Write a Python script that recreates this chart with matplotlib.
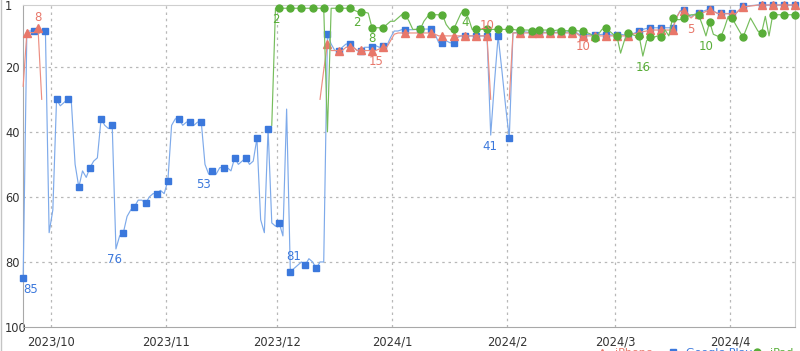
import numpy as np
import pandas as pd
import matplotlib
matplotlib.use("Agg")
import matplotlib.pyplot as plt
import matplotlib.dates as mdates
from matplotlib.lines import Line2D
from matplotlib.ticker import FuncFormatter

nan = np.nan

# daily ranks, starting 2023-09-23
dates = pd.date_range("2023-09-23 12:00", periods=209, freq="D")

blue_rank = [
    85, 9, 9, 9, 10, 9, 9, 71, 64, 30,
    32, 31, 30, 31, 50, 57, 52, 54, 51, 49,
    48, 36, 38, 39, 38, 76, 72, 71, 66, 64,
    63, 61, 61, 62, 60, 59, 59, 58, 59, 55,
    38, 36, 36, 38, 37, 37, 38, 37, 37, 50,
    53, 52, 53, 51, 51, 51, 52, 48, 50, 49,
    48, 50, 49, 42, 67, 71, 39, 68, 69, 68,
    72, 33, 83, 82, 81, 80, 81, 79, 80, 82,
    80, 80, 10, 13, 15, 15, 14, 13, 13, 14,
    15, 15, 14, 14, 14, 13.5, 14, 13.5, 13.5, 11,
    9, 9, 8.6, 8.6, 8.6, 8.6, 8.5, 8.4, 8.4, 8.4,
    8.4, 10, 12.6, 12.6, 12, 12.6, 12.6, 11, 10.5, 10.5,
    10.5, 10.5, 10.5, 10.5, 10.5, 10.5, 41, 25, 10.5, 21,
    32, 42, 9.6, 9.4, 9.4, 9.2, 9.4, 9.4, 9.4, 9.2,
    9.4, 9.4, 9.2, 9.4, 9.4, 9.4, 9.4, 9.2, 9.4, 9.4,
    10.2, 10.2, 10, 10.2, 10.2, 10.2, 10, 10.2, 10.2, 10.2,
    10.2, 10, 10.2, 10.2, 10, 9.5, 9, 8.5, 8.2, 8,
    8, 8, 8, 8, 8, 8, 5, 2.8, 2.5, 3.5,
    4.5, 3.8, 3.6, 3, 2.6, 2.3, 2.8, 3.5, 3.6, 3.6,
    3.6, 3.6, 3.6, 2.5, 1.3, 1.5, 1.2, 1.1, 1, 1,
    1, 1, 1, 1, 1, 1, 1, 1, 1,
]

red_rank = (
    [26, 9.5, 9.5, 9.5, 8, 30] + [nan] * 74 +
    [30, 21, 13, 15, 15, 15, 15, 14, 14, 14,
     15, 14.7, 15, 15, 15, 15, 14.5, 14, 14, 12,
     10, 9.6, 9.6, 9.6, 9.6, 9.6, 9.6, 9.6, 9.6, 9.6,
     9.6, 10, 10.5, 10.5, 10.5, 10.5, 10.5, 10.5, 10.5, 10.5,
     10.5, 10.5, 10.5, 10.5, 10.5, 10.5, 30, nan, nan, nan,
     nan, 30, 9.6, 9.6, 9.6, 9.6, 9.6, 9.6, 9.6, 9.6,
     9.6, 9.6, 9.6, 9.6, 9.6, 9.6, 9.6, 9.6, 9.6, 9.6,
     10.5, 10.5, 10.5, 10.5, 10.5, 10.5, 10.5, 10.5, 10.5, 10.5,
     10.5, 10.5, 10.5, 10.5, 10, 9.8, 9.6, 9.2, 9, 8.7,
     8.7, 8.7, 8.7, 8.7, 8.7, 8.7, 5, 3, 2.8, 4,
     5, 4, 3.7, 3.5, 3, 2.5, 3, 3.5, 3.7, 3.7,
     3.7, 3.7, 3.7, 2.5, 1.5, 1.5, 1.3, 1.2, 1, 1,
     1, 1, 1, 1, 1, 1, 1, 1, 1]
)

green_rank = (
    [nan] * 67 +
    [38, 2, 2, 2, 2, 2, 2, 2, 2, 2, 2, 2, 2, 2, 2,
     40, 2, 2, 2, 2, 2, 2,
     2.5, 3, 3, 3.2, 3.5, 8, 8, 8, 8, 7, 6,
     6, 5, 4, 4, 6, 8.5, 8.5, 8.5, 6, 4.5,
     4, 4, 4, 4, 7, 8.5, 8.5, 6, 3.5, 3,
     5, 8.5, 8.5, 8.5, 8.5, 8.5, 8.5, 8.5, 8.5, 8.5,
     8.5, 8.5, 8.5, 8.7, 8.7, 8.7, 8.7, 8.9, 8.7, 8.7,
     8.7, 8.7, 8.9, 8.9, 8.7, 8.9, 8.9, 8.9, 8.7, 8.9,
     9, 9, 9.5, 10, 11, 10, 8.5, 8.1, 9, 10,
     10.5, 15.8, 12, 9.6, 10, 10.5, 10.5, 16.7, 12, 10.9,
     10.9, 10.5, 10.9, 8.7, 10.5, 5, 5.5, 5.5, 5, 4.5,
     4, 4, 4, 7, 10.5, 6.2, 10, 10.5, 10.9, 8,
     4.5, 5, 7, 9, 10.9, 8, 5, 7, 9, 9.6,
     4.5, 10.5, 4, 4, 4, 4, 4, 4, 4]
)

# days that carry a marker
late_marks = ([103] + list(range(107, 132, 3)) + [134, 137, 139]
              + list(range(142, 179, 3)) + list(range(182, 195, 3))
              + list(range(199, 209, 3)))
blue_marks = list(range(0, 73, 3)) + list(range(76, 98, 3)) + late_marks
red_marks = [1, 4] + list(range(82, 98, 3)) + [m for m in late_marks if m < 126 or m > 131]
green_marks = list(range(69, 82, 3)) + list(range(85, 98, 3)) + late_marks

# point labels: (series, day index, text, dx px, dy px)
point_labels = [
    ("red", 4, "8", 0, -10),
    ("blue", 0, "85", 7, 11),
    ("blue", 25, "76", -1, 11),
    ("blue", 50, "53", -5, 10),
    ("blue", 74, "81", -4, -9),
    ("green", 68, "2", 0, 11),
    ("green", 90, "2", 0, 11),
    ("green", 94, "8", 0, 11),
    ("red", 95, "15", 0, 11),
    ("green", 119, "4", 0, 11),
    ("red", 125, "10", 0, -10),
    ("blue", 126, "41", -1, 11),
    ("red", 151, "10", 0, 11),
    ("green", 167, "16", 0, 11),
    ("red", 180, "5", 0, 11),
    ("green", 184, "10", 0, 11),
]

legend_names = {"red": "iPhone", "blue": "Google Play", "green": "iPad"}

C_BLUE, C_BLUE_LINE = "#3b78dc", "#7eaaea"
C_RED, C_RED_LINE = "#e8776a", "#ec8e82"
C_GREEN, C_GREEN_LINE = "#58ad38", "#76bd5c"

fig = plt.figure(figsize=(8, 3.51), dpi=100)
ax = fig.add_axes([23 / 800, 1 - 327 / 351, 772 / 800, 322 / 351])

series = {
    "blue": (blue_rank, C_BLUE, C_BLUE_LINE, "s", 4.3, blue_marks),
    "red": (red_rank, C_RED, C_RED_LINE, "^", 5.2, red_marks),
    "green": (green_rank, C_GREEN, C_GREEN_LINE, "o", 5.0, green_marks),
}
for z, (name, (vals, c, lc, m, ms, me)) in enumerate(series.items()):
    ax.plot(dates, vals, color=lc, lw=0.85, marker=m, ms=ms, markevery=me,
            mfc=c, mec=c, zorder=3 + z, clip_on=False)

for name, i, txt, dx, dy in point_labels:
    vals, c = series[name][0], series[name][1]
    ax.annotate(txt, (dates[i], vals[i]), xytext=(dx * 0.72, -dy * 0.72),
                textcoords="offset points", ha="center", va="center",
                fontsize=8.5, color=c, zorder=10)

ax.set_ylim(100, 1)
ax.set_yticks([1, 20, 40, 60, 80, 100])
ax.set_xlim(dates[0] - pd.Timedelta(hours=1), dates[-1])
ax.xaxis.set_major_locator(mdates.MonthLocator())
ax.xaxis.set_major_formatter(FuncFormatter(
    lambda v, p: f"{mdates.num2date(v).year}/{mdates.num2date(v).month}"))

ax.grid(True, ls=(0, (2, 3)), color="#b8b8b8", lw=0.9)
ygl = ax.yaxis.get_gridlines()
ygl[0].set_visible(False)
ygl[-1].set_visible(False)
ax.tick_params(axis="both", length=0, labelsize=8.3, colors="#333333")
ax.tick_params(axis="x", pad=6)
ax.tick_params(axis="y", pad=13)
for lab in ax.get_yticklabels():
    lab.set_horizontalalignment("left")
for s in ["left", "bottom"]:
    ax.spines[s].set_color("#a8a8a8")
for s in ["top", "right"]:
    ax.spines[s].set_color("#cfcfcf")

# legend row at the bottom edge, only its top shows
for name, x0 in [("red", 602), ("blue", 673), ("green", 757)]:
    c, lc, m = series[name][1], series[name][2], series[name][3]
    fig.add_artist(Line2D([(x0 - 8) / 800, (x0 + 8) / 800], [-1 / 351] * 2,
                          color=lc, lw=1, transform=fig.transFigure))
    fig.add_artist(Line2D([x0 / 800], [-1 / 351], color=c, marker=m, ms=5,
                          ls="none", transform=fig.transFigure))
    fig.text((x0 + 13) / 800, 2.5 / 351, legend_names[name], color=c,
             fontsize=8, ha="left", va="top")

# thin frame line on the left edge of the picture
fig.add_artist(Line2D([0.6 / 800, 0.6 / 800], [0, 1], color="#c4c4c4", lw=1,
                      transform=fig.transFigure))

fig.savefig("out.png", dpi=100)
